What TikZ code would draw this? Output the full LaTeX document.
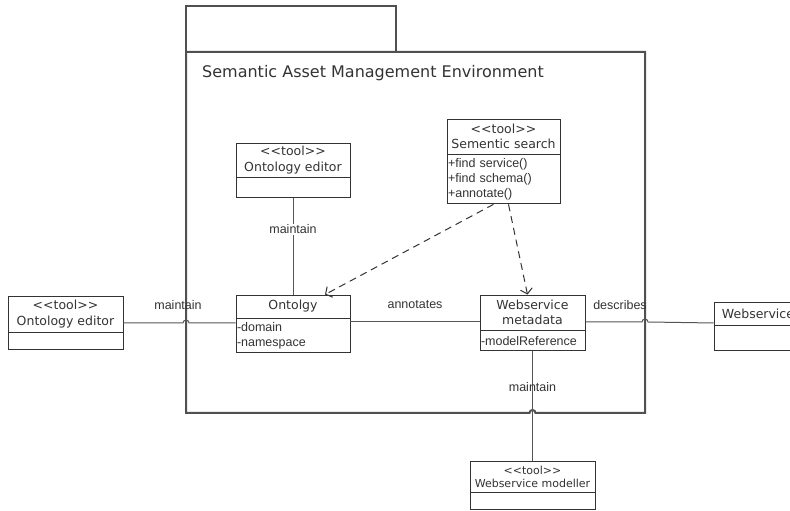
\documentclass[tikz,border=0pt]{standalone}
\usepackage{fontspec}
\setmainfont{DejaVu Sans}
\newfontfamily\lblfont{Liberation Sans}
\usetikzlibrary{positioning, arrows.meta}
\definecolor{ink}{HTML}{333333}
\definecolor{frameink}{HTML}{505050}
\definecolor{wire}{HTML}{555555}

\begin{document}
\begin{tikzpicture}[x=1pt, y=1pt,
    head/.style={draw=ink, fill=white, line width=0.9pt, align=center, inner sep=1pt,
                 text=ink, font=\fontsize{12.5}{15.5}\selectfont},
    attrs/.style={draw=ink, fill=white, line width=0.9pt, align=left, anchor=north,
                  inner xsep=1pt, inner ysep=2pt, text width=#1, text=ink,
                  font=\lblfont\fontsize{12.5}{15}\selectfont},
    lbl/.style={font=\lblfont\fontsize{12.5}{15}\selectfont, text=ink, inner sep=1pt},
    assoc/.style={draw=wire, line width=1pt},
    dep/.style={draw=ink, line width=1pt, dash pattern=on 7pt off 5pt,
                -{Straight Barb[length=5pt, width=12pt]}},
    pkg/.style={draw=frameink, line width=2pt}]

  \useasboundingbox (0,0) rectangle (790,511);
  \clip (0,0) rectangle (790,511);

  \draw[pkg] (186,459) rectangle (396,505);
  \draw[pkg] (186,459) -- (645,459) -- (645,98) -- (535.5,98)
             arc[start angle=0, end angle=180, radius=3pt] -- (186,98) -- cycle;
  \node[anchor=west, inner sep=0pt, text=ink, font=\fontsize{16}{18}\selectfont]
       (pkgname) at (202,438) {Semantic Asset Management Environment};

  \node[head, minimum width=115pt, minimum height=36pt] (ledit) at (65.5,197) {<{}<tool>{}>\\Ontology editor};
  \node[attrs=113pt, minimum height=17pt, below=0pt of ledit] (leditB) {};

  \node[head, minimum width=114pt, minimum height=34pt] (iedit) at (293,351) {<{}<tool>{}>\\Ontology editor};
  \node[attrs=112pt, minimum height=20pt, below=0pt of iedit] (ieditB) {};

  \node[head, minimum width=113pt, minimum height=35pt] (ssearch) at (503.5,374.5) {<{}<tool>{}>\\Sementic search};
  \node[attrs=111pt, minimum height=49pt, below=0pt of ssearch] (ssearchB) {+find service()\\+find schema()\\+annotate()};

  \node[head, minimum width=114pt, minimum height=23pt] (onto) at (293,204.5) {Ontolgy};
  \node[attrs=112pt, minimum height=34pt, below=0pt of onto] (ontoB) {-domain\\-namespace};

  \node[head, minimum width=105pt, minimum height=35pt] (wmeta) at (532.5,198.5) {Webservice\\metadata};
  \node[attrs=103pt, minimum height=20pt, below=0pt of wmeta] (wmetaB) {-modelReference};

  \node[head, minimum width=88pt, minimum height=23pt] (ws) at (758,197.5) {Webservice};
  \node[attrs=86pt, minimum height=25pt, below=0pt of ws] (wsB) {};

  \node[head, minimum width=125pt, minimum height=31pt, font=\fontsize{11}{13}\selectfont]
       (wmod) at (532.5,34.5) {<{}<tool>{}>\\Webservice modeller};
  \node[attrs=123pt, minimum height=17pt, below=0pt of wmod] (wmodB) {};

  \draw[assoc] (ledit.east |- 0,188) -- (183,188)
               arc[start angle=180, end angle=0, radius=3pt] -- (onto.west |- 0,188);
  \node[lbl] (lmaint) at (178,206) {maintain};

  \draw[assoc] (ieditB.south) -- node[lbl, fill=white, pos=0.32] (imaint) {maintain} (onto.north);

  \draw[assoc] (ontoB.east |- 0,189) -- node[lbl, above=12pt] (annot) {annotates} (wmeta.west |- 0,189);

  \draw[assoc] (wmeta.east |- 0,189) -- (642,189)
               arc[start angle=180, end angle=0, radius=3pt] -- (ws.west |- 0,188);
  \node[lbl] (descr) at (620,206) {describes};

  \draw[assoc] (wmetaB.south) -- node[lbl, pos=0.33] (bmaint) {maintain} (wmod.north);

  \draw[dep] ([xshift=-10pt]ssearchB.south) -- ([xshift=32pt]onto.north);
  \draw[dep] ([xshift=5pt]ssearchB.south) -- ([xshift=-5pt]wmeta.north);
\end{tikzpicture}
\end{document}
